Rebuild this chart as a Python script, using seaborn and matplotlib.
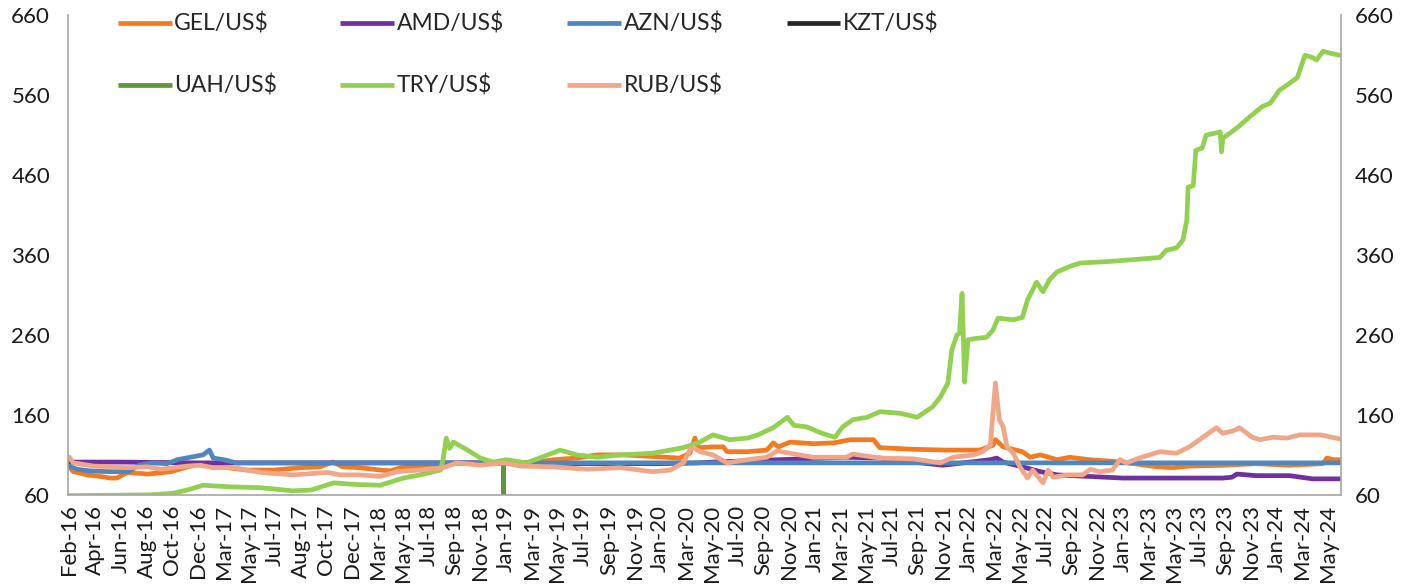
import matplotlib
matplotlib.use("Agg")
import matplotlib.pyplot as plt
from matplotlib.lines import Line2D
import seaborn as sns
import pandas as pd

sns.set_style("white")
plt.rcParams["font.family"] = ["Lato", "DejaVu Sans"]

# x axis: category slots (one per label), positions below are in slot units
x_labels = ["Feb-16", "Apr-16", "Jun-16", "Aug-16", "Oct-16", "Dec-16", "Mar-17", "May-17",
            "Jul-17", "Aug-17", "Oct-17", "Dec-17", "Mar-18", "May-18", "Jul-18", "Sep-18",
            "Nov-18", "Jan-19", "Mar-19", "May-19", "Jul-19", "Sep-19", "Nov-19", "Jan-20",
            "Mar-20", "May-20", "Jul-20", "Sep-20", "Nov-20", "Jan-21", "Mar-21", "May-21",
            "Jul-21", "Sep-21", "Nov-21", "Jan-22", "Mar-22", "May-22", "Jul-22", "Sep-22",
            "Nov-22", "Jan-23", "Mar-23", "May-23", "Jul-23", "Sep-23", "Nov-23", "Jan-24",
            "Mar-24", "May-24"]

gel_pos = [0, 0.15, 0.7, 1.2, 1.6, 1.85, 2.25, 3.05, 3.95, 4.6, 5.1, 5.6, 6.15, 6.9, 7.95, 9.0,
           9.75, 10.25, 10.65, 11.3, 12.1, 12.5, 12.9, 13.65, 14.45, 15.1, 16.75, 18.2, 18.85,
           19.75, 20.55, 21.55, 22.7, 23.75, 24.15, 24.35, 24.5, 25.05, 25.45, 25.6, 26.4, 27.15,
           27.4, 27.6, 28.05, 28.95, 29.75, 30.4, 31.3, 31.55, 32.85, 34.15, 35.45, 35.95, 36.05,
           36.35, 37.1, 37.4, 37.8, 38.45, 38.95, 39.7, 41.0, 42.35, 42.95, 43.6, 44.9, 46.2,
           47.5, 48.8, 48.95, 49.2, 49.45]
gel = [95, 89, 85, 83, 81, 81, 88, 86, 89, 95, 99, 97, 94, 91, 91, 94,
       95, 101, 95, 94, 91, 90, 94, 95, 97, 100, 100, 101, 104,
       106, 110, 110, 108, 106, 112, 131, 119, 120, 120, 114, 114, 116,
       125, 120, 126, 124, 125, 129, 129, 119, 117, 116, 116, 122, 129,
       120, 114, 107, 110, 104, 107, 104, 101, 95, 94, 96, 97, 99,
       97, 99, 106, 104, 104]

amd_pos = [0, 2, 5, 8, 12, 16, 20, 23, 24.5, 25.05, 27.65, 30.25, 31.55, 32.85, 34.0, 34.8,
           35.85, 36.1, 36.35, 37.1, 37.8, 38.45, 39.05, 39.7, 41.0, 42.35, 44.9, 45.25, 45.45,
           46.2, 47.5, 48.4, 49.45]
amd = [101, 101, 100, 100, 100, 100, 99, 99, 100, 101, 104, 107, 106, 101, 97, 100,
       104, 106, 101, 95, 89, 85, 84, 83, 81, 81, 81, 82, 86,
       84, 84, 80, 80]

azn_pos = [0, 0.3, 0.8, 1.5, 2.3, 2.7, 3.2, 3.8, 4.2, 4.7, 5.2, 5.45, 5.6, 6.0, 6.5, 49.45]
azn = [96, 92, 90, 89, 89, 97, 100, 99, 104, 107, 110, 116, 106, 104, 100, 100]

# KZT is in the legend but its line never shows inside the axis range
kzt_pos = []
kzt = []

uah_pos = [16.88, 16.9, 16.92]
uah = [0, 100, 0]

try_pos = [0, 3.15, 4.05, 4.7, 5.2, 6.25, 7.4, 8.7, 9.4, 10.3, 11.1, 12.1, 13.0, 13.65, 14.45,
           14.55, 14.67, 14.8, 14.95, 15.5, 16.0, 16.5, 17.0, 17.8, 18.3, 19.1, 19.75, 20.55,
           21.45, 22.7, 23.9, 24.55, 25.05, 25.7, 26.4, 26.8, 27.4, 27.95, 28.2, 28.7, 29.3,
           29.8, 30.1, 30.5, 31.05, 31.55, 32.35, 33.0, 33.6, 33.9, 34.2, 34.35, 34.55, 34.65,
           34.75, 34.85, 34.98, 35.35, 35.7, 35.95, 36.15, 36.75, 37.1, 37.3, 37.65, 37.9, 38.15,
           38.45, 39.05, 39.35, 40.5, 41.7, 42.45, 42.7, 43.1, 43.35, 43.5, 43.55, 43.75, 43.85,
           44.1, 44.25, 44.8, 44.85, 44.9, 45.45, 45.95, 46.45, 46.75, 47.1, 47.5, 47.8, 48.1,
           48.4, 48.55, 48.8, 49.15, 49.45]
tr = [59, 60, 62, 67, 72, 70, 69, 65, 66, 75, 73, 72, 81, 85, 91,
      105, 131, 118, 126, 116, 106, 101, 104, 100, 106, 116, 110, 107,
      110, 112, 119, 126, 135, 129, 131, 135, 144, 157, 147, 145, 137,
      132, 145, 154, 157, 164, 162, 157, 170, 182, 200, 241, 260, 262,
      312, 201, 254, 256, 257, 266, 281, 279, 282, 304, 326, 314, 329,
      339, 347, 350, 352, 355, 357, 366, 369, 379, 404, 445, 447, 491,
      494, 510, 514, 489, 506, 519, 533, 546, 550, 566, 575, 582, 610,
      607, 604, 615, 612, 610]

rub_pos = [0, 0.15, 0.95, 2.25, 3.05, 3.55, 4.6, 5.1, 5.6, 6.4, 7.45, 8.7, 10.05, 10.55, 11.3,
           12.1, 12.75, 13.65, 14.55, 15.1, 16.0, 16.9, 17.55, 18.85, 20.15, 21.45, 22.7, 23.4,
           23.9, 24.15, 24.3, 24.55, 25.05, 25.6, 26.4, 27.15, 27.55, 28.05, 28.95, 30.25, 30.5,
           31.55, 32.85, 33.9, 34.4, 35.2, 35.55, 35.85, 36.05, 36.2, 36.35, 36.5, 36.75, 37.0,
           37.3, 37.5, 37.9, 38.1, 38.3, 38.85, 39.45, 39.75, 40.1, 40.6, 40.9, 41.15, 41.65,
           42.45, 43.1, 43.6, 44.0, 44.65, 44.9, 45.3, 45.55, 46.05, 46.35, 46.85, 47.4, 47.9,
           48.7, 49.45]
rub = [107, 100, 96, 94, 95, 92, 96, 97, 94, 94, 88, 85, 88, 85, 85,
       83, 89, 91, 94, 100, 97, 100, 96, 95, 92, 94, 89, 91,
       100, 116, 119, 114, 110, 100, 104, 107, 115, 112, 107, 107, 111,
       106, 105, 100, 107, 110, 114, 122, 200, 154, 145, 120, 112, 95,
       81, 91, 75, 91, 82, 85, 85, 92, 89, 91, 104, 100, 106,
       114, 112, 120, 129, 144, 137, 140, 144, 132, 129, 132, 131, 135,
       135, 130]

names = ["GEL/US$", "AMD/US$", "AZN/US$", "KZT/US$", "UAH/US$", "TRY/US$", "RUB/US$"]
colors = ["#F47A20", "#7030A0", "#4F86BF", "#262626", "#5F963C", "#92D050", "#F2A688"]
positions = [gel_pos, amd_pos, azn_pos, kzt_pos, uah_pos, try_pos, rub_pos]
values = [gel, amd, azn, kzt, uah, tr, rub]

fig, ax = plt.subplots(figsize=(14.19, 5.87), dpi=100)
fig.subplots_adjust(left=0.048, right=0.945, top=0.974, bottom=0.157)

lw = 3.4
handles = []
for name, pos, vals, col in zip(names, positions, values, colors):
    if len(pos) > 0:
        df = pd.DataFrame({"pos": pos, "val": vals})
        sns.lineplot(data=df, x="pos", y="val", color=col, lw=lw, ax=ax,
                     estimator=None, sort=False, legend=False)
    handles.append(Line2D([0], [0], color=col, lw=3.4, solid_capstyle="butt"))

ax.set_xlim(-0.05, 49.5)
ax.set_ylim(60, 660)
yticks = list(range(60, 661, 100))
ax.set_yticks(yticks)
ax.set_xticks(range(len(x_labels)))
ax.set_xticklabels(x_labels, rotation=90)
ax.set_xlabel("")
ax.set_ylabel("")
ax.tick_params(axis="both", length=0, labelsize=16, colors="#1a1a1a")
ax.tick_params(axis="y", pad=13)
ax.tick_params(axis="x", pad=7)

ax2 = ax.twinx()
ax2.set_ylim(60, 660)
ax2.set_yticks(yticks)
ax2.tick_params(axis="y", length=0, labelsize=16, colors="#1a1a1a", pad=10)

for a in (ax, ax2):
    for s in a.spines.values():
        s.set_visible(False)
for sp in (ax.spines["left"], ax.spines["bottom"], ax2.spines["right"]):
    sp.set_visible(True)
    sp.set_color("#A6A6A6")
    sp.set_linewidth(1.2)

order = [0, 4, 1, 5, 2, 6, 3]
ax.legend([handles[i] for i in order], [names[i] for i in order], ncol=4,
          loc="upper left", bbox_to_anchor=(0.039, 1.005), frameon=False,
          fontsize=16.5, handlelength=2.35, handletextpad=0.12, columnspacing=2.75,
          labelspacing=1.75, borderpad=0, borderaxespad=0)

fig.savefig("out.png", dpi=100)
